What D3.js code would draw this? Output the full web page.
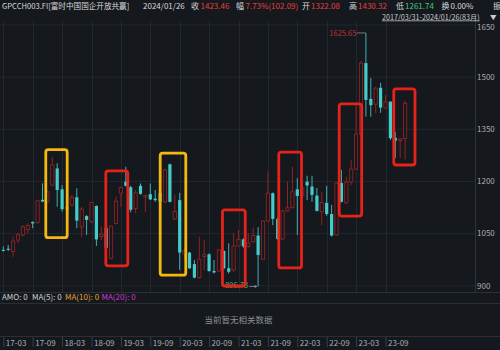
<!DOCTYPE html>
<html>
<head>
<meta charset="utf-8">
<script src="https://cdn.jsdelivr.net/npm/d3@7"></script>
<style>
  html, body { margin: 0; padding: 0; background: #15181d; }
  svg { display: block; font-family: "Noto Sans CJK SC", "Noto Sans", sans-serif; }
</style>
</head>
<body>
<svg id="chart" width="500" height="350"></svg>
<script>
// monthly candles, 2017-03 .. 2024-01 (83 months)
const opens  = [1002,1005,997,1030,1045,1060,1082,1080,1146,1140,1188,1236,1176,1119,1131,1153,1068,1099,1083,1128,
                1040,1065,978,1078,1165,1198,1182,1121,1186,1154,1162,1149,1165,1140,1248,1091,1145,990,994,961,
                922,983,989,941,941,999,949,944,1013,1032,1011,1025,1043,975,1085,1165,1091,1033,1114,1123,
                1176,1157,1198,1184,1158,1112,1137,1105,1045,1194,1137,1197,1234,1335,1539,1436,1421,1468,1410,1428,
                1324,1316,1322.08];
const highs  = [1012,1016,1040,1051,1073,1078,1084,1146,1193,1172,1270,1251,1188,1140,1160,1179,1126,1102,1140,1130,
                1068,1070,1072,1155,1184,1241,1186,1174,1193,1160,1193,1174,1168,1235,1250,1160,1166,1010,996,973,
                1040,1030,992,973,1004,1000,1021,1050,1059,1035,1050,1066,1067,1086,1227,1167,1095,1117,1198,1241,
                1208,1200,1215,1215,1180,1169,1186,1131,1196,1232,1212,1260,1418,1545,1625.65,1496,1471,1482,1447,1430,
                1341,1322,1430.32];
const lows   = [997,999,982,1021,1040,1048,1064,1077,1139,1138,1185,1126,1112,1105,1126,1064,1040,1045,1078,1013,
                1030,1000,975,1075,1126,1184,1110,1107,1160,1110,1145,1140,1136,1136,1138,1088,944,975,947,920,
                918,944,939,934,938,945,934,939,1011,1008,1009,1024,896.73,973,1083,1073,1030,1030,1112,1121,
                1045,1150,1145,1140,1112,1073,1100,1040,1042,1138,1135,1188,1232,1330,1385,1385,1395,1396,1408,1318,
                1266,1266,1261.74];
const closes = [1000,1002,1027,1045,1068,1072,1078,1143,1141,1169,1246,1174,1119,1125,1153,1086,1119,1088,1138,1032,
                1047,1008,1070,1142,1181,1186,1117,1166,1163,1158,1147,1145,1140,1232,1140,1112,994,1000,949,922,
                975,988,941,937,1002,949,939,1013,1032,1012,1021,1043,987,1085,1165,1091,1033,1114,1123,1169,
                1157,1180,1187,1160,1114,1138,1105,1043,1194,1140,1197,1234,1335,1539,1433,1418,1467,1411,1427,1323,
                1316,1321.37,1423.46];

const tickIndex  = [0,6,12,18,24,30,36,42,48,54,60,66,72,78];
const tickLabels = ["17-03","17-09","18-03","18-09","19-03","19-09","20-03","20-09","21-03","21-09","22-03","22-09","23-03","23-09"];
const yTicks = [900,1050,1200,1350,1500,1650];

// hand-drawn highlight boxes, in month index / price units
const boxFrom  = [8.67, 20.92, 32.02, 44.73, 56.22, 68.55, 79.69];
const boxTo    = [13.04, 25.41, 37.24, 49.37, 60.86, 73.14, 84.02];
const boxHigh  = [1290, 1229, 1280, 1117, 1283, 1422, 1465];
const boxLow   = [1037, 956, 929, 898, 950, 1099, 1246];
const boxKind  = ["yellow","red","yellow","red","red","red","red"];

const svg = d3.select("#chart");
const W = 500, H = 350;
const plotRight = 475, plotTop = 21, plotBottom = 292;

const UP = "#8e2424", DOWN = "#43cccc", BG = "#15181d", GRID = "#23272e";

const x = d3.scaleLinear().domain([0, 82]).range([3.3, 405.1]);
const y = d3.scaleLinear().domain([900, 1650]).range([285.3, 24.5]);

svg.append("rect").attr("width", W).attr("height", H).attr("fill", BG);

// grid
svg.append("g").selectAll("line").data(yTicks).join("line")
  .attr("x1", 0).attr("x2", plotRight)
  .attr("y1", d => y(d) + 0.5).attr("y2", d => y(d) + 0.5)
  .attr("stroke", GRID).attr("stroke-width", 1);
svg.append("g").selectAll("line").data(tickIndex).join("line")
  .attr("x1", d => Math.round(x(d)) + 0.5).attr("x2", d => Math.round(x(d)) + 0.5)
  .attr("y1", plotTop).attr("y2", plotBottom)
  .attr("stroke", GRID).attr("stroke-width", 1);

// panel separators
[292.5, 303.5, 336.5].forEach(yy => {
  svg.append("line").attr("x1", 0).attr("x2", W).attr("y1", yy).attr("y2", yy)
    .attr("stroke", "#2a2e35").attr("stroke-width", 1);
});
svg.append("line").attr("x1", plotRight + 0.5).attr("x2", plotRight + 0.5)
  .attr("y1", plotTop).attr("y2", plotBottom).attr("stroke", "#2e323a");

// right price axis
const yAxis = svg.append("g")
  .attr("transform", `translate(${plotRight},0)`)
  .call(d3.axisRight(y).tickValues(yTicks).tickSize(0).tickPadding(2).tickFormat(d3.format("d")));
yAxis.select(".domain").remove();
yAxis.selectAll("text").attr("fill", "#a9adb3").attr("font-size", 8)
  .attr("font-family", "'Noto Sans CJK SC', sans-serif")
  .attr("dy", d => d === 1650 ? "0.6em" : "0.35em");

// bottom month axis
const xAxis = svg.append("g")
  .attr("transform", "translate(0,337)")
  .call(d3.axisBottom(x).tickValues(tickIndex).tickSize(10).tickFormat((d, i) => tickLabels[i]));
xAxis.select(".domain").remove();
xAxis.selectAll(".tick line").attr("stroke", "#3a3f47");
xAxis.selectAll("text").attr("fill", "#a9adb3").attr("font-size", 8)
  .attr("font-family", "'Noto Sans CJK SC', sans-serif")
  .attr("text-anchor", "start").attr("x", 2).attr("y", 6).attr("dy", "0.35em");

// candles
const candles = opens.map((o, i) => ({ i, o, h: highs[i], l: lows[i], c: closes[i] }));
const k = svg.append("g").selectAll("g").data(candles).join("g");
k.append("line")
  .attr("x1", d => x(d.i)).attr("x2", d => x(d.i))
  .attr("y1", d => y(d.h)).attr("y2", d => y(d.l))
  .attr("stroke", d => d.c >= d.o ? UP : "#3fb0b4").attr("stroke-width", 1);
k.append("rect")
  .attr("x", d => x(d.i) - 1.6)
  .attr("width", 3.2)
  .attr("y", d => y(Math.max(d.o, d.c)))
  .attr("height", d => Math.max(1, Math.abs(y(d.o) - y(d.c))))
  .attr("fill", d => d.c >= d.o ? BG : DOWN)
  .attr("stroke", d => d.c >= d.o ? UP : "none")
  .attr("stroke-width", 0.9);

// high / low markers
const hiIdx = d3.maxIndex(highs), loIdx = d3.minIndex(lows);
const mk = svg.append("g");
mk.append("line").attr("x1", x(hiIdx) - 9).attr("x2", x(hiIdx))
  .attr("y1", y(highs[hiIdx])).attr("y2", y(highs[hiIdx])).attr("stroke", "#8f9499").attr("stroke-width", 0.8);
mk.append("text").attr("x", x(hiIdx) - 9.5).attr("y", y(highs[hiIdx]))
  .attr("dy", "0.35em").attr("text-anchor", "end").attr("font-size", 7.5).attr("fill", "#b8363a")
  .text(d3.format(".2f")(highs[hiIdx]));
mk.append("line").attr("x1", x(loIdx) - 9).attr("x2", x(loIdx) - 1)
  .attr("y1", y(lows[loIdx])).attr("y2", y(lows[loIdx])).attr("stroke", "#8f9499").attr("stroke-width", 0.8);
mk.append("path")
  .attr("d", `M${x(loIdx) - 1},${y(lows[loIdx])} l-2.5,-1.5 v3 z`).attr("fill", "#8f9499");
mk.append("text").attr("x", x(loIdx) - 10).attr("y", y(lows[loIdx]) - 1)
  .attr("dy", "0.35em").attr("text-anchor", "end").attr("font-size", 7.5).attr("fill", "#3dbb7a")
  .text(d3.format(".2f")(lows[loIdx]));

// highlight boxes
const boxColor = { yellow: "#f5b80e", red: "#e5231b" };
svg.append("g").selectAll("rect").data(boxFrom).join("rect")
  .attr("x", d => x(d))
  .attr("y", (d, i) => y(boxHigh[i]))
  .attr("width", (d, i) => x(boxTo[i]) - x(d))
  .attr("height", (d, i) => y(boxLow[i]) - y(boxHigh[i]))
  .attr("rx", 2.5)
  .attr("fill", "none")
  .attr("stroke", (d, i) => boxColor[boxKind[i]])
  .attr("stroke-width", 2.8);

// header line, each piece placed on its own
const parts = [
  [2, "GPCCH003.FI[富时中国国企开放共赢]", "#d6d8db", 7.6],
  [143, "2024/01/26", "#d6d8db", 8],
  [191, "收", "#d6d8db", 8], [200.5, "1423.46", "#e3403f", 8],
  [236, "幅", "#d6d8db", 8], [245.5, "7.73%(102.09)", "#e3403f", 8],
  [302, "开", "#d6d8db", 8], [311, "1322.08", "#e3403f", 8],
  [349, "高", "#d6d8db", 8], [358, "1430.32", "#e3403f", 8],
  [396, "低", "#d6d8db", 8], [405, "1261.74", "#3fc985", 8],
  [441.5, "换", "#d6d8db", 8], [450.5, "0.00%", "#d6d8db", 8],
  [493, "振", "#d6d8db", 8]
];
svg.append("g").selectAll("text").data(parts).join("text")
  .attr("x", d => d[0]).attr("y", 8.5)
  .attr("font-size", d => d[3]).attr("fill", d => d[2])
  .text(d => d[1]);

// range selector
svg.append("text").attr("x", 382).attr("y", 19.5).attr("font-size", 7.2).attr("fill", "#c9ccd0")
  .attr("text-decoration", "underline").text("2017/03/31-2024/01/26(83月)");
svg.append("text").attr("x", 490).attr("y", 19.5).attr("font-size", 6.5).attr("fill", "#c9ccd0").text("▼");

// volume panel legend
const legend = [[2, "AMO: 0", "#d0d2d5"], [32, "MA(5): 0", "#d0d2d5"], [65, "MA(10): 0", "#e6a13a"], [101.5, "MA(20): 0", "#c83ad0"]];
svg.append("g").selectAll("text").data(legend).join("text")
  .attr("x", d => d[0]).attr("y", 300).attr("font-size", 8).attr("fill", d => d[2])
  .text(d => d[1]);

svg.append("text").attr("x", plotRight / 2 + 1).attr("y", 323).attr("text-anchor", "middle")
  .attr("font-size", 8.5).attr("fill", "#8c9096").text("当前暂无相关数据");
</script>
</body>
</html>
